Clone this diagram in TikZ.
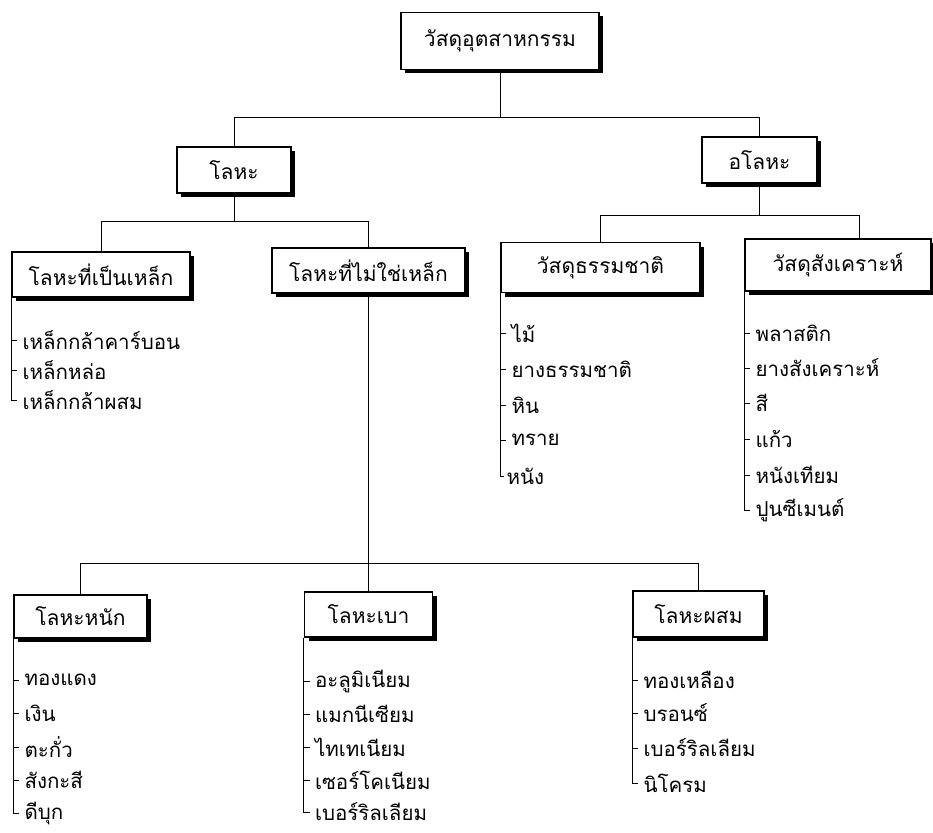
\documentclass[tikz,border=0pt]{standalone}
\usepackage{fontspec}
\newfontfamily\thaifont[Script=Thai]{Loma}
\usetikzlibrary{shadows}

\tikzstyle{box}=[draw, line width=1.3, fill=white, minimum height=45, font=\thaifont\fontsize{21}{24}\selectfont, drop shadow={shadow xshift=4pt, shadow yshift=-4pt, fill=black, opacity=1}]
\tikzstyle{entry}=[anchor=west, inner xsep=11, inner ysep=1, font=\thaifont\fontsize{20.5}{24}\selectfont]
\tikzstyle{line}=[line width=1]

\begin{document}
\begin{tikzpicture}[x=1pt, y=-1pt]
  \useasboundingbox (0,0) rectangle (933,832);

  % top levels
  \node[box, minimum width=198, minimum height=57] (root) at (500,41) {วัสดุอุตสาหกรรม};
  \node[box, minimum width=114, minimum height=46] (metal) at (234,170) {โลหะ};
  \node[box, minimum width=115, minimum height=46] (nonmetal) at (759.5,160) {อโลหะ};
  \draw[line] (root.south) -- (root.south |- 0,117);
  \draw[line] (metal.north) -- (metal.north |- 0,117) -| (nonmetal.north);

  % metals
  \node[box, minimum width=178] (ferrous) at (101,274.5) {โลหะที่เป็นเหล็ก};
  \node[box, minimum width=193] (nonferrous) at (368.5,270.5) {โลหะที่ไม่ใช่เหล็ก};
  \draw[line] (metal.south) -- (metal.south |- 0,221);
  \draw[line] (ferrous.north) -- (ferrous.north |- 0,221) -| (nonferrous.north);

  \node[entry] (f1) at (ferrous.south west |- 0,340) {เหล็กกล้าคาร์บอน};
  \node[entry] (f2) at (ferrous.south west |- 0,370) {เหล็กหล่อ};
  \node[entry] (f3) at (ferrous.south west |- 0,400) {เหล็กกล้าผสม};
  \draw[line] (f1.west) -- +(6,0) (f2.west) -- +(6,0);
  \draw[line] (ferrous.south west) |- ([xshift=6]f3.west);

  % non-metals
  \node[box, minimum width=199, minimum height=50] (natural) at (600.5,267.5) {วัสดุธรรมชาติ};
  \node[box, minimum width=186, minimum height=52] (synthetic) at (838,265) {วัสดุสังเคราะห์};
  \draw[line] (nonmetal.south) -- (nonmetal.south |- 0,215);
  \draw[line] (natural.north) -- (natural.north |- 0,215) -| ([xshift=21]synthetic.north);

  \node[entry] (n1) at (natural.south west |- 0,333) {ไม้};
  \node[entry] (n2) at (natural.south west |- 0,369) {ยางธรรมชาติ};
  \node[entry] (n3) at (natural.south west |- 0,405) {หิน};
  \node[entry] (n4) at (natural.south west |- 0,440) {ทราย};
  \node[entry, inner xsep=6] (n5) at (natural.south west |- 0,476) {หนัง};
  \draw[line] (n1.west) -- +(6,0) (n2.west) -- +(6,0) (n3.west) -- +(6,0) (n4.west) -- +(6,0);
  \draw[line] (natural.south west) |- ([xshift=4]n5.west);

  \node[entry] (s1) at (synthetic.south west |- 0,333) {พลาสติก};
  \node[entry] (s2) at (synthetic.south west |- 0,368) {ยางสังเคราะห์};
  \node[entry] (s3) at (synthetic.south west |- 0,403) {สี};
  \node[entry] (s4) at (synthetic.south west |- 0,439) {แก้ว};
  \node[entry] (s5) at (synthetic.south west |- 0,475) {หนังเทียม};
  \node[entry] (s6) at (synthetic.south west |- 0,510) {ปูนซีเมนต์};
  \draw[line] (s1.west) -- +(6,0) (s2.west) -- +(6,0) (s3.west) -- +(6,0) (s4.west) -- +(6,0) (s5.west) -- +(6,0);
  \draw[line] (synthetic.south west) |- ([xshift=6]s6.west);

  % non-ferrous metals
  \node[box, minimum width=133, minimum height=43] (heavy) at (80.5,616.5) {โลหะหนัก};
  \node[box, minimum width=128] (light) at (368.5,614.5) {โลหะเบา};
  \node[box, minimum width=131, minimum height=46] (alloy) at (698.5,614) {โลหะผสม};
  \draw[line] (nonferrous.south) -- (light.north);
  \draw[line] (heavy.north) -- (heavy.north |- 0,563) -| (alloy.north);

  \node[entry] (h1) at (heavy.south west |- 0,680) {ทองแดง};
  \node[entry] (h2) at (heavy.south west |- 0,713) {เงิน};
  \node[entry] (h3) at (heavy.south west |- 0,747) {ตะกั่ว};
  \node[entry] (h4) at (heavy.south west |- 0,780) {สังกะสี};
  \node[entry] (h5) at (heavy.south west |- 0,813) {ดีบุก};
  \draw[line] (h1.west) -- +(6,0) (h2.west) -- +(6,0) (h3.west) -- +(6,0) (h4.west) -- +(6,0);
  \draw[line] (heavy.south west) |- ([xshift=6]h5.west);

  \node[entry] (l1) at (light.south west |- 0,681) {อะลูมิเนียม};
  \node[entry] (l2) at (light.south west |- 0,714) {แมกนีเซียม};
  \node[entry] (l3) at (light.south west |- 0,747) {ไทเทเนียม};
  \node[entry] (l4) at (light.south west |- 0,780) {เซอร์โคเนียม};
  \node[entry] (l5) at (light.south west |- 0,812) {เบอร์ริลเลียม};
  \draw[line] (l1.west) -- +(6,0) (l2.west) -- +(6,0) (l3.west) -- +(6,0) (l4.west) -- +(6,0);
  \draw[line] (light.south west) |- ([xshift=6]l5.west);

  \node[entry] (a1) at (alloy.south west |- 0,680) {ทองเหลือง};
  \node[entry] (a2) at (alloy.south west |- 0,713) {บรอนซ์};
  \node[entry] (a3) at (alloy.south west |- 0,748) {เบอร์ริลเลียม};
  \node[entry] (a4) at (alloy.south west |- 0,783) {นิโครม};
  \draw[line] (a1.west) -- +(6,0) (a2.west) -- +(6,0) (a3.west) -- +(6,0);
  \draw[line] (alloy.south west) |- ([xshift=6]a4.west);
\end{tikzpicture}
\end{document}
